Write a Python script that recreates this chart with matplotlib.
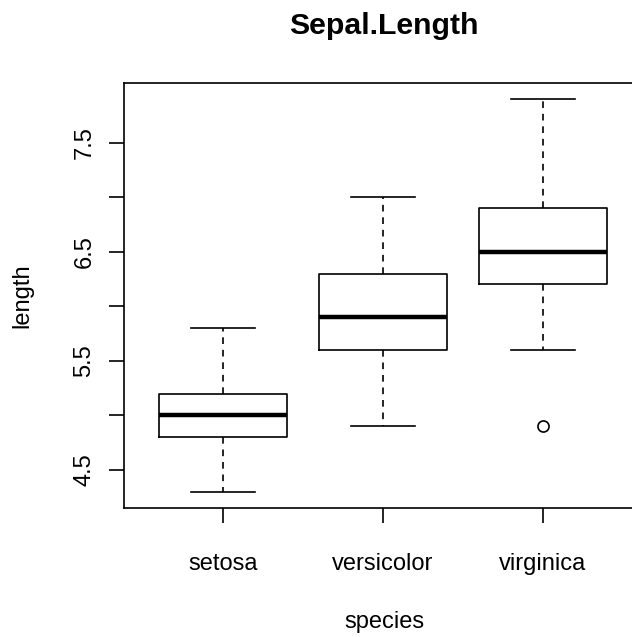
import matplotlib
matplotlib.use("Agg")
import matplotlib.pyplot as plt

species = ["setosa", "versicolor", "virginica"]
whislo = [4.3, 4.9, 5.6]
q1 = [4.8, 5.6, 6.2]
med = [5.0, 5.9, 6.5]
q3 = [5.2, 6.3, 6.9]
whishi = [5.8, 7.0, 7.9]
fliers = [[], [], [4.9]]
yticks = [4.5, 5.0, 5.5, 6.0, 6.5, 7.0, 7.5]
yticklabels = ["4.5", "", "5.5", "", "6.5", "", "7.5"]

plt.rcParams['font.family'] = ['Liberation Sans', 'DejaVu Sans']

fig = plt.figure(figsize=(6.32, 6.37), dpi=100)
W, H = 632, 637
left, right, top, bottom = 124, 642, 83.3, 507.5
ax = fig.add_axes([left / W, 1 - bottom / H, (right - left) / W, (bottom - top) / H])

stats = []
for i in range(3):
    stats.append(dict(label=species[i], whislo=whislo[i], q1=q1[i], med=med[i],
                      q3=q3[i], whishi=whishi[i], fliers=fliers[i]))

lw = 1.2
ax.bxp(stats, positions=[1, 2, 3], widths=0.8, patch_artist=False,
       boxprops=dict(color='black', linewidth=lw),
       whiskerprops=dict(color='black', linewidth=lw, linestyle=(0, (4, 3.5))),
       capprops=dict(color='black', linewidth=lw),
       capwidths=0.4,
       medianprops=dict(color='black', linewidth=3.2, solid_capstyle='butt'),
       flierprops=dict(marker='o', markerfacecolor='none', markeredgecolor='black',
                       markersize=8, markeredgewidth=1.2))

ax.set_xlim(0.38, 3.62)
ax.set_ylim(4.156, 8.044)
ax.set_yticks(yticks)
ax.set_yticklabels(yticklabels, rotation=90, va='center', fontsize=17)
ax.set_xticks([1, 2, 3])
ax.set_xticklabels(species, fontsize=17)
ax.tick_params(axis='both', length=10.5, width=1.2, color='black')
ax.tick_params(axis='y', pad=10)
ax.tick_params(axis='x', pad=22)
for s in ax.spines.values():
    s.set_linewidth(1.2)

fig.text(384 / W, 1 - 26 / H, "Sepal.Length", ha='center', va='center',
         fontsize=21.8, fontweight='bold')
fig.text(384 / W, 1 - 622 / H, "species", ha='center', va='center', fontsize=17)
fig.text(22 / W, 1 - 296 / H, "length", ha='center', va='center', fontsize=17, rotation=90)

fig.savefig("out.png", dpi=100)
